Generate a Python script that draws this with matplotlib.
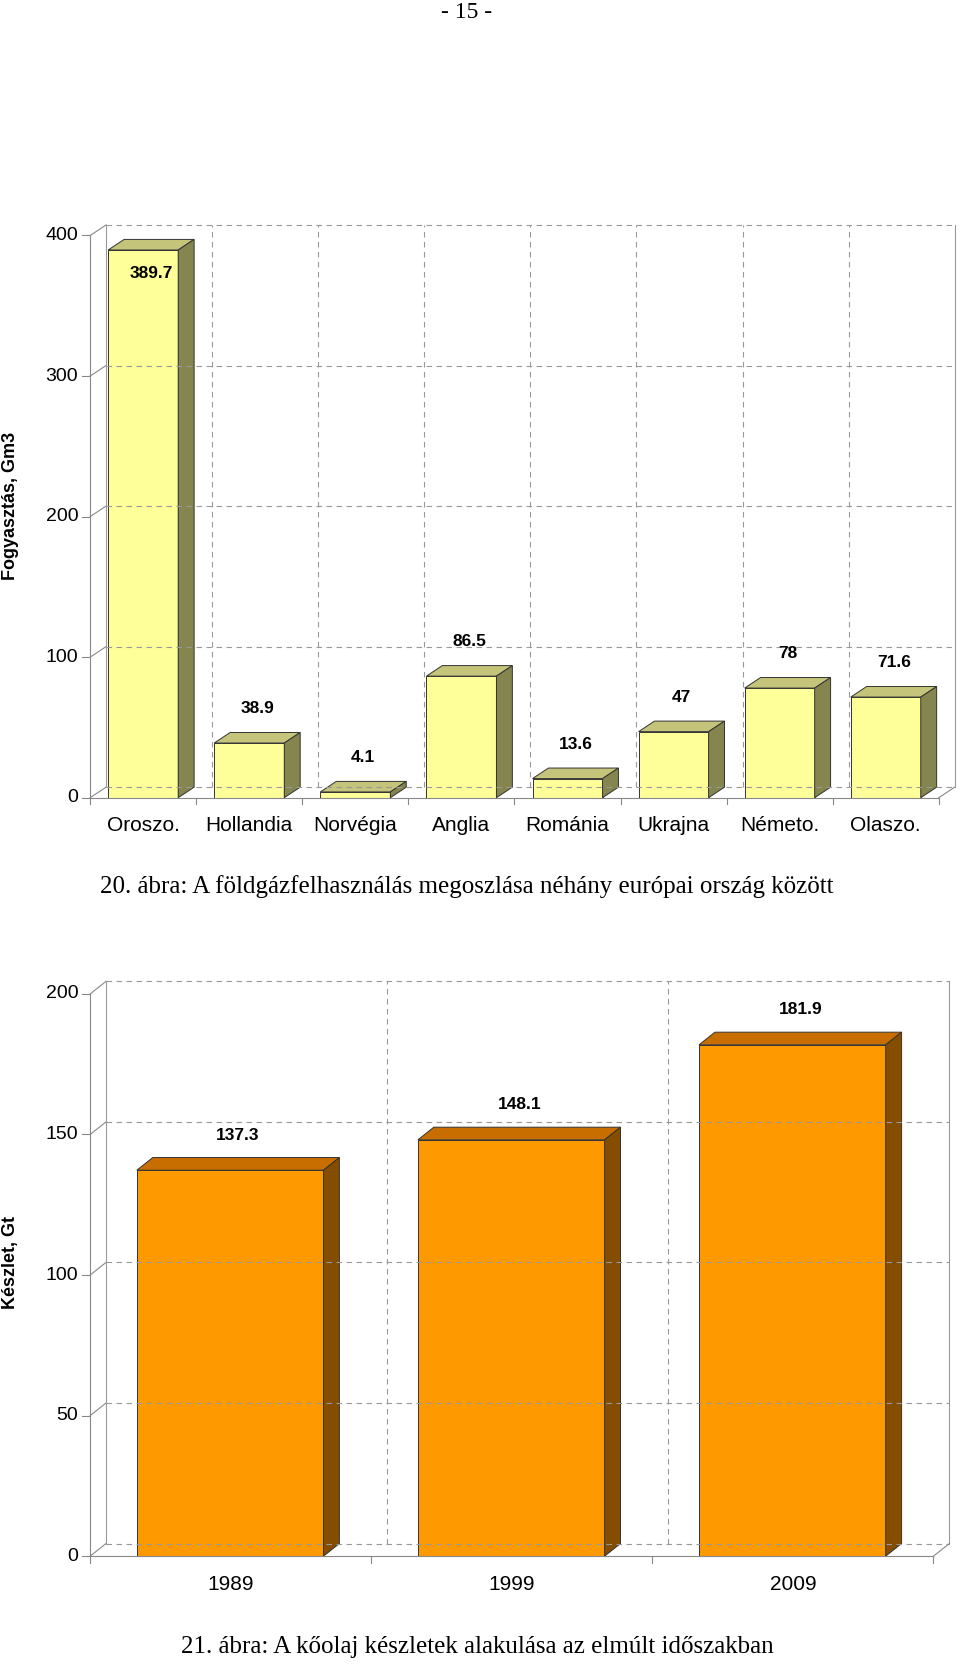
import matplotlib.pyplot as plt
from matplotlib.patches import Polygon

plt.rcParams['font.family'] = 'Liberation Sans'

countries = ['Oroszo.', 'Hollandia', 'Norvégia', 'Anglia', 'Románia', 'Ukrajna', 'Németo.', 'Olaszo.']
gas_use = [389.7, 38.9, 4.1, 86.5, 13.6, 47, 78, 71.6]
gas_ticks = [0, 100, 200, 300, 400]

years = ['1989', '1999', '2009']
oil_stock = [137.3, 148.1, 181.9]
oil_ticks = [0, 50, 100, 150, 200]

W, H = 960, 1669
S = 960 / 905  # reference measured on a 905 px wide view
fig = plt.figure(figsize=(W / 100, H / 100), dpi=100)


def chart(box, cats, vals, ticks, ymax, dx, dy, colors, ylabel, ylab_x, bar_off, bar_w,
          lab_dy, first_inside=False):
    left, top, right, bottom = [v * S for v in box]
    ax = fig.add_axes([left / W, 1 - bottom / H, (right - left) / W, (bottom - top) / H])
    n = len(cats)
    ax.set_xlim(0, n)
    ax.set_ylim(0, ymax)
    ax.axis('off')
    kw = dict(clip_on=False)
    unit = n / (right - left)  # data x per pixel
    for t in ticks:
        ax.plot([dx, n + dx], [t + dy, t + dy], color='#999999', ls=(0, (5, 4)), lw=0.8, **kw)
        ax.plot([0, dx], [t, t + dy], color='#888888', lw=0.8, **kw)
        ax.plot([-8 * unit, 0], [t, t], color='#888888', lw=0.8, **kw)
        ax.text(-12 * unit, t, str(t), ha='right', va='center', fontsize=14, **kw)
    for k in range(n + 1):
        ax.plot([k + dx, k + dx], [dy, ymax + dy], color='#999999',
                ls='-' if k in (0, n) else (0, (5, 4)), lw=0.8, **kw)
        ax.plot([k, k], [0, -ymax * 0.012], color='#888888', lw=0.8, **kw)
    ax.plot([0, 0], [0, ymax], color='#888888', lw=0.8, **kw)
    ax.plot([0, n], [0, 0], color='#888888', lw=0.8, **kw)
    ax.plot([n, n + dx], [0, dy], color='#888888', lw=0.8, **kw)
    front, topc, side = colors
    for i, (c, v) in enumerate(zip(cats, vals)):
        x0, x1 = i + bar_off, i + bar_off + bar_w
        ax.add_patch(Polygon([(x0, 0), (x1, 0), (x1, v), (x0, v)], fc=front, ec='#333333', lw=0.7, **kw))
        ax.add_patch(Polygon([(x0, v), (x1, v), (x1 + dx, v + dy), (x0 + dx, v + dy)], fc=topc, ec='#333333', lw=0.7, **kw))
        ax.add_patch(Polygon([(x1, 0), (x1 + dx, dy), (x1 + dx, v + dy), (x1, v)], fc=side, ec='#333333', lw=0.7, **kw))
        ly = v - lab_dy if (first_inside and i == 0) else v + dy + lab_dy
        ax.text((x0 + x1) / 2 + dx / 2, ly, f'{v:g}', ha='center', va='center',
                fontsize=12.5, fontweight='bold', **kw)
        ax.text(i + 0.5, -ymax * 0.05, c, ha='center', va='center', fontsize=15, **kw)
    ax.text((ylab_x * S - left) * unit, ticks[-1] / 2 + dy, ylabel, rotation=90,
            ha='center', va='center', fontsize=13, fontweight='bold', **kw)
    return ax


chart((85, 222, 885, 752), countries, gas_use, gas_ticks, 400, 0.15, 7.5,
      ('#FFFF99', '#C4C47A', '#85854F'), 'Fogyasztás, Gm3', 10, 0.17, 0.66, 17,
      first_inside=True)
chart((85, 937, 880, 1467), years, oil_stock, oil_ticks, 200, 15 / 265, 4.5,
      ('#FF9900', '#C86E00', '#854D00'), 'Készlet, Gt', 10, 0.166, 0.664, 8)

fig.text(440 * S / W, 1 - 12 * S / H, '- 15 -', ha='center', va='center', fontsize=17, family='Liberation Serif')
fig.text(440 * S / W, 1 - 836 * S / H, '20. ábra: A földgázfelhasználás megoszlása néhány európai ország között',
         ha='center', va='center', fontsize=18, family='Liberation Serif')
fig.text(450 * S / W, 1 - 1553 * S / H, '21. ábra: A kőolaj készletek alakulása az elmúlt időszakban',
         ha='center', va='center', fontsize=18, family='Liberation Serif')

fig.savefig('out.png', dpi=100)
